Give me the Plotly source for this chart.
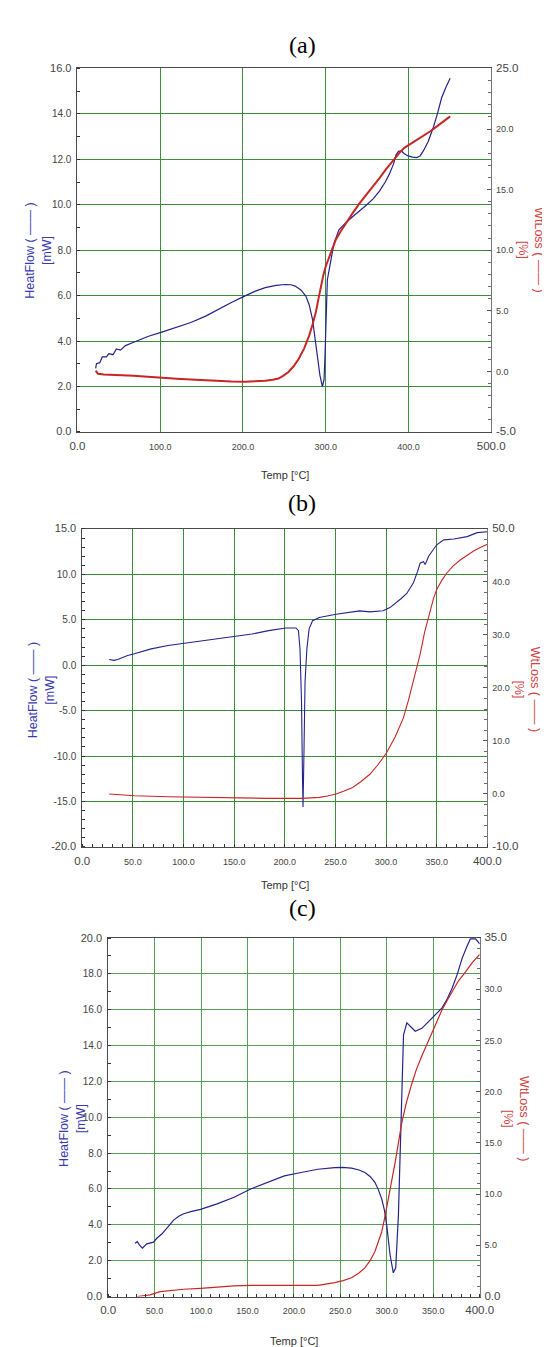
import plotly.graph_objects as go

W, H = 550, 1347

# ---------------- Panel (a) ----------------
a_hf_T = [22, 23, 27, 30, 35, 38, 43, 47, 52, 58, 68, 85, 101, 120, 137, 155, 170, 186, 202, 215, 227, 240,
          251, 258, 263, 270, 276, 280, 284, 287, 290, 293, 296, 298, 299, 300.5, 302, 305, 310, 316, 324,
          332.5, 341, 349, 357, 365, 372, 377, 382, 385, 388, 391.5, 395, 399.6, 405, 410, 414, 418, 424,
          430, 435, 440, 445, 450.4]
a_hf = [2.8, 3.0, 3.05, 3.3, 3.3, 3.45, 3.4, 3.65, 3.6, 3.8, 3.95, 4.2, 4.38, 4.6, 4.82, 5.1, 5.4, 5.7,
        5.98, 6.2, 6.35, 6.45, 6.49, 6.48, 6.42, 6.25, 5.98, 5.6, 4.97, 4.2, 3.22, 2.5, 2.0, 2.3, 3.2, 5.0,
        6.7, 7.3, 8.3, 8.9, 9.2, 9.47, 9.72, 9.98, 10.25, 10.6, 11.0, 11.36, 11.8, 12.2, 12.35, 12.37, 12.25,
        12.15, 12.1, 12.08, 12.15, 12.37, 12.8, 13.4, 14.0, 14.7, 15.15, 15.57]
a_wl_T = [22, 25, 31.7, 50, 68, 85, 101, 120, 137, 155, 170, 186, 202, 215, 227, 236, 243, 249, 255, 261,
          267.5, 274, 280, 284, 288, 291, 294, 297, 300, 303, 306, 309, 312, 318, 324, 332, 340.6, 349, 357,
          365, 373, 381, 389.4, 395, 401.6, 410, 418, 426, 434, 442, 450.4]
a_wl = [0.05, -0.2, -0.26, -0.3, -0.37, -0.45, -0.54, -0.6, -0.67, -0.75, -0.81, -0.84, -0.86, -0.84, -0.78,
        -0.7, -0.59, -0.35, -0.05, 0.4, 1.04, 1.9, 2.95, 3.85, 4.85, 5.9, 7.03, 7.9, 8.66, 9.25, 9.75, 10.3,
        10.84, 11.55, 12.2, 13.0, 13.84, 14.55, 15.2, 15.95, 16.7, 17.4, 18.06, 18.45, 18.74, 19.05, 19.4,
        19.8, 20.2, 20.6, 21.05]

# ---------------- Panel (b) ----------------
b_hf_T = [26.6, 31.5, 35, 40, 44.8, 51.5, 60, 68, 84.7, 101, 118, 134.5, 151, 167.7, 184, 201, 211, 213.5,
          215, 216.5, 217.5, 218, 219, 220, 221.8, 224, 227.4, 234, 250.7, 267, 274, 284, 297, 303.8, 310.4,
          315, 320.4, 327, 331, 333.7, 337, 338.6, 342, 346, 350, 357, 367, 380, 390, 400]
b_hf = [0.64, 0.54, 0.64, 0.85, 1.08, 1.26, 1.55, 1.8, 2.17, 2.43, 2.68, 2.9, 3.19, 3.44, 3.81, 4.1, 4.1,
        3.8, 1.8, -4.0, -12.7, -15.6, -9.1, -1.8, 1.8, 4.0, 4.9, 5.26, 5.62, 5.88, 5.99, 5.88, 5.99, 6.35,
        6.9, 7.35, 7.9, 9.08, 10.3, 11.26, 11.4, 11.08, 12.0, 12.7, 13.26, 13.8, 13.9, 14.16, 14.6, 14.7]
b_wl_T = [26.6, 51.5, 84.7, 118, 151, 184, 217.5, 234, 242, 250.7, 258, 267, 275, 284, 292, 300.5, 309,
          317, 322, 327, 330.5, 333.7, 338, 343.6, 347, 350, 355, 360, 366, 373.5, 380, 386.8, 393, 400]
b_wl = [-0.03, -0.34, -0.53, -0.65, -0.84, -0.84, -0.84, -0.65, -0.4, -0.03, 0.5, 1.22, 2.3, 3.71, 5.5,
        7.76, 10.8, 14.3, 17.6, 21.2, 23.9, 26.45, 30.5, 34.9, 37.0, 38.6, 40.3, 41.7, 43.0, 44.2, 45.1, 45.9,
        46.5, 47.1]

# ---------------- Panel (c) ----------------
c_hf_T = [28.9, 31.4, 33.6, 36.9, 41.5, 48.8, 52.4, 58, 63, 70.5, 76, 81.3, 90, 99.4, 117.4, 135.5, 153.5,
          171.6, 189.7, 207.7, 225.8, 243.9, 252, 262, 270, 276.4, 282, 287.2, 291, 294.5, 297.5, 299.9, 303.5,
          307, 309.6, 312.5, 315.4, 318, 321.6, 325, 330.6, 337.8, 348.6, 359.5, 365, 370.3, 376, 381, 386,
          390, 395.6, 400]
c_hf = [2.97, 3.06, 2.88, 2.7, 2.94, 3.03, 3.25, 3.5, 3.8, 4.26, 4.48, 4.62, 4.75, 4.86, 5.17, 5.54, 6.0,
        6.37, 6.73, 6.92, 7.1, 7.19, 7.2, 7.16, 7.06, 6.92, 6.7, 6.37, 5.95, 5.45, 4.8, 3.98, 2.33, 1.32,
        1.6, 4.53, 10.04, 14.6, 15.27, 15.08, 14.8, 14.96, 15.54, 16.1, 16.6, 17.2, 18.0, 18.85, 19.5, 19.95,
        19.95, 19.67]
c_wl_T = [31.4, 38, 45, 56, 66.8, 81.3, 99.4, 117.4, 135.5, 153.5, 189.7, 225.8, 243.9, 253, 262, 270,
          276.4, 282, 287.2, 291, 294.5, 298, 301.7, 305, 309, 316, 321, 327, 332, 337.8, 343, 348.6, 354,
          359.5, 365, 370.3, 377, 384.8, 392, 400]
c_wl = [0.0, 0.05, 0.16, 0.48, 0.61, 0.71, 0.8, 0.93, 1.03, 1.09, 1.06, 1.09, 1.35, 1.55, 1.83, 2.3, 2.8,
        3.5, 4.4, 5.3, 6.3, 7.8, 9.5, 11.0, 13.1, 16.9, 18.9, 20.8, 22.2, 23.5, 24.6, 25.75, 26.9, 28.0,
        28.9, 29.8, 30.8, 31.7, 32.6, 33.4]

# tick values
a_xticks = [0, 100, 200, 300, 400, 500]
a_yl_ticks = [0, 2, 4, 6, 8, 10, 12, 14, 16]
a_yr_ticks = [-5, 0, 5, 10, 15, 20, 25]
b_xticks = [0, 50, 100, 150, 200, 250, 300, 350, 400]
b_yl_ticks = [-20, -15, -10, -5, 0, 5, 10, 15]
b_yr_ticks = [-10, 0, 10, 20, 30, 40, 50]
c_xticks = [0, 50, 100, 150, 200, 250, 300, 350, 400]
c_yl_ticks = [0, 2, 4, 6, 8, 10, 12, 14, 16, 18, 20]
c_yr_ticks = [0, 5, 10, 15, 20, 25, 30, 35]

panel_labels = ["(a)", "(b)", "(c)"]
x_title = "Temp [°C]"
hf_title = "HeatFlow ( —— )<br>[mW]"
wl_title = "WtLoss ( —— )<br>[%]"

BLUE = "#23238a"
RED = "#c62626"
TBLUE = "#3a3ab0"
TRED = "#d04545"
TICKC = "#444444"
AXC = "#4a4a4a"
FONT = "Arial, Liberation Sans, sans-serif"


def fx(p):
    return p / W


def fy(p):
    return 1 - p / H


def ttext(vals, size_mid, size_end):
    out = []
    for i, v in enumerate(vals):
        s = f"{v:.1f}"
        sz = size_end if i in (0, len(vals) - 1) else size_mid
        out.append(f'<span style="font-size:{sz}px">{s}</span>')
    return out


panels = [
    dict(box=(64, 495, 54, 421), xr=[0, 500], xt=a_xticks, xminor=None,
         yl=[0, 16], ylt=a_yl_ticks, ylminor=1, yr=[-5, 25], yrt=a_yr_ticks, yrminor=1,
         hf=(a_hf_T, a_hf), wl=(a_wl_T, a_wl), bw=1.2, rw=2.0, gw=1.0, gc="#3d8c3d",
         title=(298, 30), xtitle=(280, 464), ltitle=(23, 238), rtitle=(537, 237)),
    dict(box=(69, 491, 519, 840), xr=[0, 400], xt=b_xticks, xminor=10,
         yl=[-20, 15], ylt=b_yl_ticks, ylminor=1, yr=[-10, 50], yrt=b_yr_ticks, yrminor=2,
         hf=(b_hf_T, b_hf), wl=(b_wl_T, b_wl), bw=1.1, rw=1.1, gw=1.0, gc="#3d8c3d",
         title=(298, 493), xtitle=(280, 878), ltitle=(27, 681), rtitle=(532, 681)),
    dict(box=(96, 483, 932, 1294), xr=[0, 400], xt=c_xticks, xminor=10,
         yl=[0, 20], ylt=c_yl_ticks, ylminor=1, yr=[0, 35], yrt=c_yr_ticks, yrminor=1,
         hf=(c_hf_T, c_hf), wl=(c_wl_T, c_wl), bw=1.2, rw=1.2, gw=1.4, gc="#5a9c5a",
         title=(298, 902), xtitle=(290, 1339), ltitle=(59, 1114), rtitle=(521, 1114)),
]

fig = go.Figure()
layout = dict(width=W, height=H, margin=dict(l=0, r=0, t=0, b=0),
              paper_bgcolor="white", plot_bgcolor="white", showlegend=False,
              font=dict(family=FONT, color=TICKC))
annotations = []

for i, p in enumerate(panels):
    xn = "" if i == 0 else str(i + 1)
    yl_n = str(2 * i + 1) if i > 0 else ""
    yr_n = str(2 * i + 2)
    x0, x1, y0, y1 = p["box"]
    xdom = [fx(x0), fx(x1)]
    ydom = [fy(y1), fy(y0)]

    fig.add_trace(go.Scatter(x=p["hf"][0], y=p["hf"][1], mode="lines",
                             line=dict(color=BLUE, width=p["bw"]),
                             xaxis="x" + xn, yaxis="y" + yl_n))
    fig.add_trace(go.Scatter(x=p["wl"][0], y=p["wl"][1], mode="lines",
                             line=dict(color=RED, width=p["rw"]),
                             xaxis="x" + xn, yaxis="y" + yr_n))

    xa = dict(domain=xdom, range=p["xr"], anchor="y" + yl_n,
              tickmode="array", tickvals=p["xt"], ticktext=ttext(p["xt"], 9, 11.5),
              tickfont=dict(size=9, color=TICKC, family=FONT),
              showgrid=True, gridcolor=p["gc"], gridwidth=p["gw"], zeroline=False,
              showline=True, linecolor=AXC, linewidth=1, mirror=True,
              ticks="", ticklabelstandoff=6)
    if p["xminor"]:
        xa["minor"] = dict(dtick=p["xminor"], tick0=0, ticks="inside", ticklen=3,
                           tickcolor="#333", showgrid=False)
    yl = dict(domain=ydom, range=p["yl"], anchor="x" + xn,
              tickmode="array", tickvals=p["ylt"], ticktext=ttext(p["ylt"], 10, 11),
              tickfont=dict(size=10, color=TICKC, family=FONT),
              showgrid=True, gridcolor=p["gc"], gridwidth=p["gw"], zeroline=False,
              showline=True, linecolor=AXC, linewidth=1,
              ticks="", ticklabelstandoff=3,
              minor=dict(dtick=p["ylminor"], tick0=0, ticks="inside", ticklen=3,
                         tickcolor="#333", showgrid=False))
    yr = dict(domain=ydom, range=p["yr"], anchor="x" + xn, overlaying="y" + yl_n,
              side="right",
              tickmode="array", tickvals=p["yrt"], ticktext=ttext(p["yrt"], 9, 11.5),
              tickfont=dict(size=9, color=TICKC, family=FONT),
              showgrid=False, zeroline=False,
              showline=True, linecolor="#777", linewidth=1,
              ticks="inside", ticklen=4, tickcolor="#555", ticklabelstandoff=2,
              minor=dict(dtick=p["yrminor"], tick0=0, ticks="inside", ticklen=3,
                         tickcolor="#666", showgrid=False))
    layout["xaxis" + xn] = xa
    layout["yaxis" + yl_n] = yl
    layout["yaxis" + yr_n] = yr

    tx, ty = p["title"]
    annotations.append(dict(text=panel_labels[i], x=fx(tx), y=fy(ty), xref="paper", yref="paper",
                            showarrow=False, xanchor="center", yanchor="middle",
                            font=dict(family="Liberation Serif, Times New Roman, serif", size=24,
                                      color="black")))
    tx, ty = p["xtitle"]
    annotations.append(dict(text=x_title, x=fx(tx), y=fy(ty), xref="paper", yref="paper",
                            showarrow=False, xanchor="center", yanchor="middle",
                            font=dict(family=FONT, size=11, color="#333")))
    tx, ty = p["ltitle"]
    annotations.append(dict(text=hf_title, x=fx(tx), y=fy(ty), xref="paper", yref="paper",
                            showarrow=False, xanchor="center", yanchor="middle", textangle=-90,
                            font=dict(family=FONT, size=12.5, color=TBLUE)))
    tx, ty = p["rtitle"]
    annotations.append(dict(text=wl_title, x=fx(tx), y=fy(ty), xref="paper", yref="paper",
                            showarrow=False, xanchor="center", yanchor="middle", textangle=90,
                            font=dict(family=FONT, size=12.5, color=TRED)))

layout["annotations"] = annotations
fig.update_layout(**layout)
fig.write_html("out.html")
